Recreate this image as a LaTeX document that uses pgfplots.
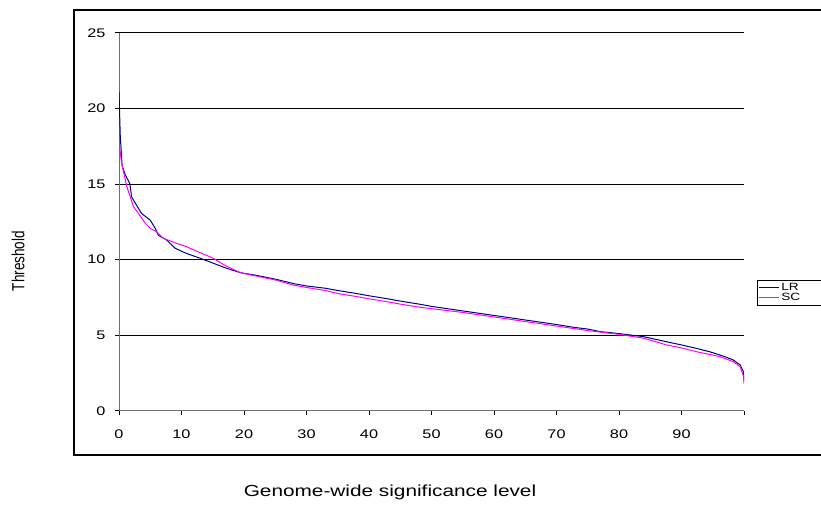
\documentclass[border=0pt]{standalone}
\usepackage{fontspec}
\setmainfont{Liberation Sans}[FakeStretch=1.3]
\newfontfamily\plainsans{Liberation Sans}
\usepackage{pgfplots}
\pgfplotsset{compat=1.18}
\definecolor{lrblue}{RGB}{0,0,128}
\definecolor{scpink}{RGB}{255,0,255}
\definecolor{axgray}{RGB}{110,110,110}

\begin{document}
\begin{tikzpicture}[x=1pt,y=1pt]
\path[use as bounding box] (0pt,0pt) rectangle (821pt,512pt);
% chart area frame (runs off the right edge, like the original)
\draw[black, line width=1.3pt] (74pt,57pt) rectangle (850pt,502pt);
\begin{axis}[
    at={(119pt,101.3pt)}, anchor=south west,
    scale only axis, width=625pt, height=378pt,
    xmin=0, xmax=100, ymin=0, ymax=25,
    axis x line*=bottom, axis y line*=left,
    axis line style={axgray, line width=0.8pt},
    xtick={0,10,...,100},
    xticklabels={0,10,20,30,40,50,60,70,80,90,{}},
    ytick={0,5,...,25},
    tick align=outside, major tick length=4pt,
    tick style={black, line width=0.6pt},
    ymajorgrids, grid style={black, line width=0.6pt},
    /pgf/number format/assume math mode=true,
    ticklabel style={font=\fontsize{12.5}{14}\selectfont},
    xticklabel style={yshift=-12pt},
    yticklabel style={xshift=-6pt},
    legend style={at={(1.0208,0.345)}, anchor=north west,
        font=\fontsize{10.5}{12}\selectfont, draw=black, line width=0.5pt,
        inner sep=1pt, row sep=-3pt, cells={anchor=west}},
    legend image code/.code={\draw[#1] (0pt,0pt) -- (20pt,0pt);},
]
\addplot[lrblue, line width=1pt] coordinates {
    (0,21.1)(0.2,18.2)(0.5,16.2)(1.0,15.6)(1.76,15.0)(2.0,14.15)(2.8,13.6)
    (3.6,13.05)(5.0,12.6)(5.8,12.06)(6.3,11.6)(7.6,11.3)(9.0,10.74)
    (10.8,10.4)(13.0,10.08)(15.1,9.75)(17.0,9.45)(19.4,9.13)(22,8.95)
    (25,8.7)(28,8.4)(30,8.25)(33,8.1)(35,7.95)(38,7.75)(40,7.6)(43,7.4)
    (45,7.25)(48,7.05)(50,6.9)(53,6.72)(55,6.6)(58,6.42)(60,6.3)(63,6.12)
    (65,6.0)(68,5.82)(70,5.7)(73,5.5)(75,5.4)(77,5.23)(80,5.1)(83.9,4.9)
    (87.6,4.56)(90,4.35)(92.4,4.12)(94.5,3.9)(96.2,3.68)(97.4,3.5)
    (98.3,3.35)(99.4,3.02)(99.9,2.58)(100,2.0)
};
\addlegendentry{LR\hspace*{30pt}}
\addplot[scpink, line width=1pt] coordinates {
    (0,17.8)(0.4,16.4)(1.0,15.3)(1.2,14.9)(1.8,14.15)(2.3,13.5)(3.1,13.05)
    (4.2,12.4)(5.0,12.06)(6.0,11.84)(7.1,11.4)(9.2,11.07)(10.8,10.85)
    (13.0,10.45)(15.1,10.08)(17.0,9.6)(19.4,9.13)(22,8.9)(25,8.65)
    (28,8.3)(30,8.15)(33,7.95)(35,7.75)(38,7.55)(40,7.4)(43,7.2)
    (45,7.05)(48,6.85)(50,6.75)(53,6.6)(55,6.5)(58,6.32)(60,6.2)
    (63,6.02)(65,5.9)(68,5.72)(70,5.6)(73,5.42)(75,5.3)(77,5.2)(80,5.05)
    (83.9,4.8)(87.6,4.35)(90,4.15)(92.4,3.9)(94.5,3.72)(96.2,3.57)
    (98.3,3.24)(99.4,2.9)(99.9,2.3)(100,1.8)
};
\addlegendentry{SC}
\end{axis}
\node[font=\plainsans\fontsize{13.5}{16}\selectfont] at (18pt,251pt)
    {\rotatebox{90}{\scalebox{1}[1.3]{Threshold}}};
\node[font=\fontsize{16}{18}\selectfont] at (390pt,20pt) {Genome-wide significance level};
\end{tikzpicture}
\end{document}
